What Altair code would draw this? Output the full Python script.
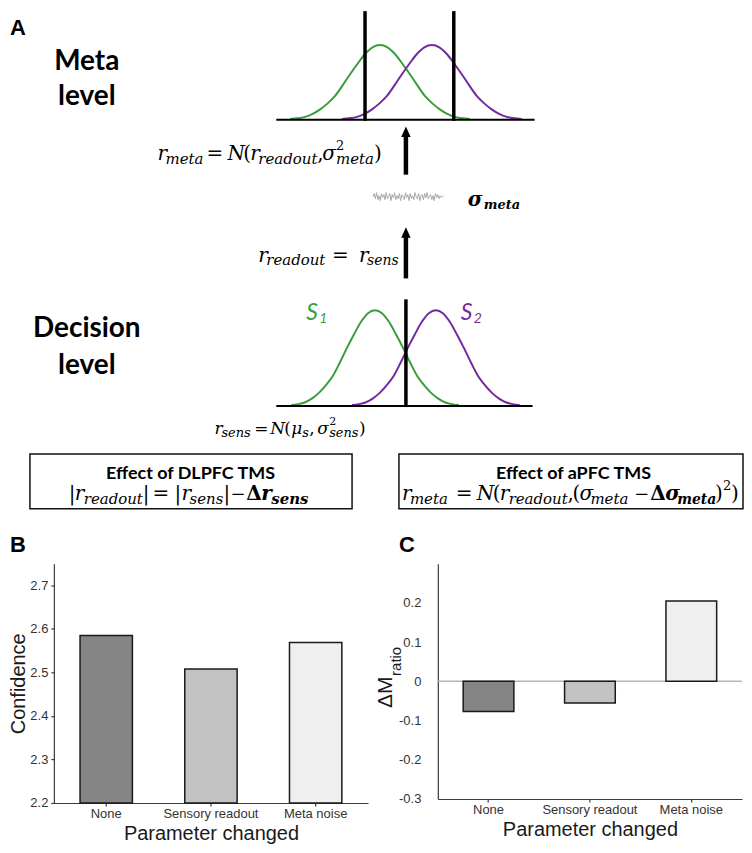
import altair as alt
import pandas as pd

# ---------------- values ----------------
conditions = ["None", "Sensory readout", "Meta noise"]
confidence = [2.585, 2.508, 2.569]
delta_mratio = [-0.077, -0.055, 0.205]
bar_fill = ["#858585", "#c2c2c2", "#efefef"]
confidence_ticks = [2.2, 2.3, 2.4, 2.5, 2.6, 2.7]
mratio_ticks = [-0.3, -0.2, -0.1, 0, 0.1, 0.2]

# shape of the sketched distributions: relative height at offsets (in SD units)
gauss_offsets = [-3.0, -2.75, -2.5, -2.25, -2.0, -1.75, -1.5, -1.25, -1.0, -0.75, -0.5, -0.25,
                 0.0, 0.25, 0.5, 0.75, 1.0, 1.25, 1.5, 1.75, 2.0, 2.25, 2.5, 2.75, 3.0]
gauss_heights = [0.01, 0.02, 0.04, 0.08, 0.14, 0.22, 0.32, 0.46, 0.61, 0.75, 0.88, 0.97,
                 1.0, 0.97, 0.88, 0.75, 0.61, 0.46, 0.32, 0.22, 0.14, 0.08, 0.04, 0.02, 0.01]

# hand-traced wiggle of the meta-noise trace
noise_trace = [0, -3, 2, -4, 3, -1, 4, -3, 1, -2, 3, -4, 2, 0, -3, 4, -2, 1, -4, 3,
               -1, 2, -3, 4, -2, 0, 3, -4, 1, -2, 4, -3, 2, -1, 3, -4, 0, 2, -3, 4,
               -1, -2, 3, -3, 1, -4, 2, 0, -2, 3, -1, 4, -3, 1, -2, 2, -1, 1, 0, -1]

# ---------------- styling / layout of the schematic ----------------
GREEN = "#3a9c3a"
PURPLE = "#742a9e"
SERIF = "DejaVu Serif"
SANS = "Liberation Sans"
HEAD = "Lato"

# distributions: name, centre, sd, peak height, baseline, colour
curve_specs = [
    ("meta_S1", 379, 30, 75, 117, GREEN),
    ("meta_S2", 431, 30, 75, 117, PURPLE),
    ("dec_S1", 374, 28, 96, 404, GREEN),
    ("dec_S2", 435, 28, 96, 404, PURPLE),
]
curve_rows = []
for name, c, sd, h, base, col in curve_specs:
    for i, (k, r) in enumerate(zip(gauss_offsets, gauss_heights)):
        curve_rows.append({"curve": name, "i": i, "x": c + k * sd, "y": base - r * h, "c": col})
curve_df = pd.DataFrame(curve_rows)

noise_df = pd.DataFrame({
    "i": list(range(len(noise_trace))),
    "x": [372 + j * 71 / (len(noise_trace) - 1) for j in range(len(noise_trace))],
    "y": [194 + v for v in noise_trace],
})

rule_df = pd.DataFrame([
    {"x": 364, "y": 8, "x2": 364, "y2": 118, "w": 3.5},
    {"x": 453, "y": 8, "x2": 453, "y2": 118, "w": 3.5},
    {"x": 275, "y": 117, "x2": 534, "y2": 117, "w": 2},
    {"x": 275, "y": 404, "x2": 532, "y2": 404, "w": 2},
    {"x": 405, "y": 297, "x2": 405, "y2": 405, "w": 3.5},
    {"x": 405, "y": 131, "x2": 405, "y2": 172, "w": 4.5},
    {"x": 405, "y": 232, "x2": 405, "y2": 276, "w": 4.5},
])
head_df = pd.DataFrame({"x": [405, 405], "y": [129, 230]})
box_df = pd.DataFrame({"x": [28, 398], "y": [452, 452], "x2": [351, 743], "y2": [507, 507]})


def pieces(rows):
    return pd.DataFrame(rows, columns=["t", "x", "y", "s"])


italic_txt = pieces([
    ("r", 156, 157, 20), ("meta", 164, 161, 15), ("N", 226, 157, 20), ("r", 249, 157, 20),
    ("readout", 257, 161, 15), ("σ", 321, 157, 20), ("meta", 335, 161, 15),
    ("r", 257, 260, 20), ("readout", 265, 263, 15), ("r", 358, 260, 20), ("sens", 366, 263, 14),
    ("r", 213, 432, 17), ("sens", 220, 435, 13), ("N", 269, 432, 17), ("μ", 290, 432, 17),
    ("s", 301, 435, 13), ("σ", 316, 432, 17), ("sens", 328, 435, 13),
    ("r", 73, 498, 20), ("readout", 82, 502, 15), ("r", 180, 498, 20), ("sens", 188, 502, 15),
    ("r", 401, 498, 20), ("meta", 409, 502, 15), ("N", 476, 498, 20), ("r", 499, 498, 20),
    ("readout", 508, 502, 15), ("σ", 579, 498, 20), ("meta", 590, 502, 15),
])
upright_txt = pieces([
    ("=", 205, 157, 20), ("(", 242, 157, 20), (",", 316, 157, 20), ("2", 335, 147, 13), (")", 373, 157, 20),
    ("=", 331, 260, 20),
    ("=", 253, 432, 17), ("(", 283, 432, 17), (",", 308, 432, 17), ("2", 328, 423, 11), (")", 358, 432, 17),
    ("|", 67, 498, 20), ("|", 141, 498, 20), ("=", 151, 498, 20), ("|", 173, 498, 20),
    ("|", 222, 498, 20), ("−", 229, 498, 18),
    ("=", 455, 498, 20), ("(", 492, 498, 20), (",", 567, 498, 20), ("(", 572, 498, 20),
    ("−", 634, 498, 18), (")", 715, 498, 20), ("2", 723, 488, 13), (")", 731, 498, 20),
])
bold_txt = pieces([("Δ", 245, 498, 20), ("Δ", 650, 498, 20)])
bold_italic_txt = pieces([
    ("r", 260, 498, 20), ("sens", 270, 502, 15),
    ("σ", 665, 498, 20), ("meta", 677, 502, 14),
    ("σ", 467, 203, 20), ("meta", 483, 206, 13),
])
heading_txt = pieces([
    ("Meta", 85, 67, 28), ("level", 85, 102, 28), ("Decision", 85, 335, 28), ("level", 85, 372, 28),
])
box_title_txt = pieces([("Effect of DLPFC TMS", 189, 477, 18), ("Effect of aPFC TMS", 573, 477, 18)])
letter_txt = pieces([("A", 8, 32, 22), ("B", 8, 550, 22), ("C", 398, 550, 22)])
s_labels = pd.DataFrame([
    ("S", 305, 318, 23, GREEN), ("1", 318, 321, 14, GREEN),
    ("S", 460, 318, 23, PURPLE), ("2", 473, 321, 14, PURPLE),
], columns=["t", "x", "y", "s", "c"])

# panel A shares its left edge with panel B's plot area (x = 52 in figure pixels)
XS = alt.Scale(domain=[52, 744], nice=False, zero=False)
YS = alt.Scale(domain=[8, 562], nice=False, zero=False, reverse=True)


def X():
    return alt.X("x:Q", scale=XS, axis=None)


def Y():
    return alt.Y("y:Q", scale=YS, axis=None)


def text_layer(df, color="black", **kw):
    enc = dict(x=X(), y=Y(), text="t:N", size=alt.Size("s:Q", scale=None))
    if "c" in df.columns:
        enc["color"] = alt.Color("c:N", scale=None)
        return alt.Chart(df).mark_text(baseline="alphabetic", **kw).encode(**enc)
    return alt.Chart(df).mark_text(baseline="alphabetic", color=color, **kw).encode(**enc)


curves = alt.Chart(curve_df).mark_line(interpolate="monotone", strokeWidth=2).encode(
    x=X(), y=Y(), detail="curve:N", order="i:Q", color=alt.Color("c:N", scale=None))
noise = alt.Chart(noise_df).mark_line(color="#a8a8a8", strokeWidth=1).encode(x=X(), y=Y(), order="i:Q")
rules = alt.Chart(rule_df).mark_rule(color="black").encode(
    x=X(), y=Y(), x2="x2:Q", y2="y2:Q", strokeWidth=alt.StrokeWidth("w:Q", scale=None))
heads = alt.Chart(head_df).mark_point(shape="M0,-1L0.9,1L-0.9,1Z", filled=True, size=110,
                                      color="black", opacity=1, strokeWidth=0).encode(x=X(), y=Y())
boxes = alt.Chart(box_df).mark_rect(color="white", fillOpacity=0, stroke="#111111", strokeWidth=1.5).encode(
    x=X(), y=Y(), x2="x2:Q", y2="y2:Q")

panelA = alt.layer(
    curves, noise, rules, heads, boxes,
    text_layer(italic_txt, font=SERIF, fontStyle="italic", align="left"),
    text_layer(upright_txt, font=SERIF, align="left"),
    text_layer(bold_txt, font=SERIF, fontWeight="bold", align="left"),
    text_layer(bold_italic_txt, font=SERIF, fontStyle="italic", fontWeight="bold", align="left"),
    text_layer(heading_txt, font=HEAD, fontWeight="bold", align="center"),
    text_layer(box_title_txt, font=HEAD, fontWeight="bold", align="center"),
    text_layer(letter_txt, font=SANS, fontWeight="bold", align="left"),
    text_layer(s_labels, font=HEAD, fontStyle="italic", align="left"),
).properties(width=692, height=554)

# ---------------- panel B ----------------
dfB = pd.DataFrame({"cond": conditions, "val": confidence, "fill": bar_fill})
x_axis = alt.Axis(title="Parameter changed", labelAngle=0, tickSize=3, labelPadding=2, titlePadding=3)
chartB = alt.Chart(dfB).mark_bar(stroke="#1a1a1a", strokeWidth=1.5).encode(
    x=alt.X("cond:N", sort=conditions, scale=alt.Scale(paddingInner=0.5, paddingOuter=0.25), axis=x_axis),
    y=alt.Y("val:Q", scale=alt.Scale(domain=[2.2, 2.75], nice=False, zero=False),
            axis=alt.Axis(title="Confidence", values=confidence_ticks, format=".1f",
                          tickSize=3, labelPadding=3, titlePadding=1)),
    y2=alt.datum(2.2),
    color=alt.Color("fill:N", scale=None),
).properties(width=315, height=240)

# ---------------- panel C ----------------
dfC = pd.DataFrame({"cond": conditions, "val": delta_mratio, "fill": bar_fill})
zero_line = alt.Chart(dfC).mark_rule(color="#b5b5b5", strokeWidth=1).encode(y=alt.datum(0))
barsC = alt.Chart(dfC).mark_bar(stroke="#1a1a1a", strokeWidth=1.5).encode(
    x=alt.X("cond:N", sort=conditions, scale=alt.Scale(paddingInner=0.5, paddingOuter=0.25), axis=x_axis),
    y=alt.Y("val:Q", scale=alt.Scale(domain=[-0.3, 0.3], nice=False, zero=False),
            axis=alt.Axis(title=None, values=mratio_ticks, labelExpr="toString(datum.value)",
                          ticks=False, labelPadding=17)),
    y2=alt.datum(0),
    color=alt.Color("fill:N", scale=None),
)
c_title1 = alt.Chart(pd.DataFrame({"t": ["ΔM"]})).mark_text(
    angle=270, font=SANS, fontSize=21, align="center", baseline="middle", color="#1a1a1a"
).encode(text="t:N", x=alt.value(-52), y=alt.value(129))
c_title2 = alt.Chart(pd.DataFrame({"t": ["ratio"]})).mark_text(
    angle=270, font=SANS, fontSize=15, align="center", baseline="middle", color="#1a1a1a"
).encode(text="t:N", x=alt.value(-42), y=alt.value(98))
chartC = alt.layer(zero_line, barsC, c_title1, c_title2).properties(width=305, height=236)

row = alt.hconcat(chartB, chartC, spacing=7)
chart = alt.vconcat(panelA, row, spacing=0).properties(
    padding=0
).configure_view(stroke=None).configure_axis(
    domainColor="#3a3a3a", domainWidth=1.2, tickColor="#3a3a3a", tickWidth=1.2,
    labelFont=SANS, labelFontSize=13, labelColor="#333333",
    titleFont=SANS, titleFontSize=20, titleFontWeight="normal", titleColor="#1a1a1a",
    grid=False,
)

chart.save("out.html", embed_options={"renderer": "svg", "actions": False})
